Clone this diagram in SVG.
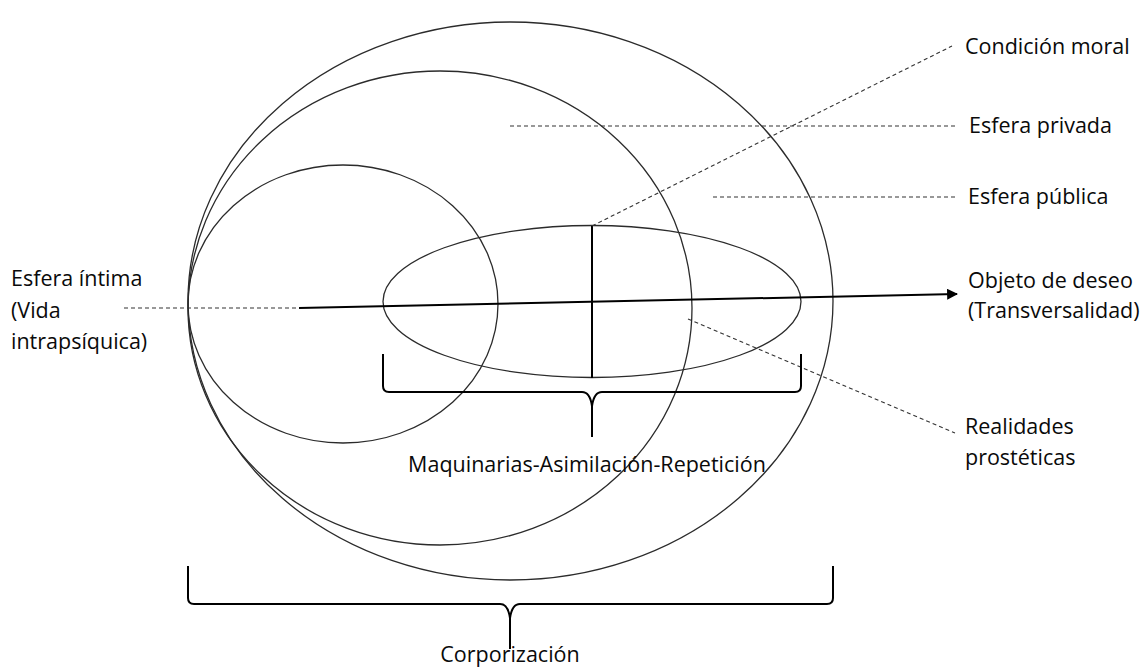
<svg xmlns="http://www.w3.org/2000/svg" width="1148" height="669" viewBox="0 0 1148 669">
  <style>
    .sphere { fill: none; stroke: #2b2b2b; stroke-width: 1.3; }
    .dash { fill: none; stroke: #333; stroke-width: 1.1; stroke-dasharray: 4 3; }
    .solid { fill: none; stroke: #000; stroke-width: 2; }
    .brace { fill: none; stroke: #000; stroke-width: 2; stroke-linejoin: round; }
    .lbl { font-family: "Open Sans", "Noto Sans", sans-serif; font-size: 21.5px; fill: #0a0a0a; }
  </style>
  <defs>
    <marker id="arrowhead" viewBox="0 0 10 10" refX="9" refY="5" markerWidth="5.5" markerHeight="5.5" orient="auto" markerUnits="strokeWidth">
      <path d="M0,0 L10,5 L0,10 Z" fill="#000"/>
    </marker>
  </defs>
  <rect width="1148" height="669" fill="#fff"/>

  <!-- nested spheres, all tangent at the left -->
  <g id="esfera-publica">
    <ellipse class="sphere" cx="510.5" cy="301" rx="322.5" ry="279"/>
  </g>
  <g id="esfera-privada">
    <ellipse class="sphere" cx="440" cy="308" rx="252" ry="237"/>
  </g>
  <g id="esfera-intima">
    <ellipse class="sphere" cx="343" cy="304" rx="155" ry="139"/>
  </g>
  <g id="realidades-prosteticas">
    <ellipse class="sphere" cx="592" cy="301.5" rx="209" ry="76"/>
  </g>

  <!-- connectors and braces -->
  <g id="connectors">
    <line class="dash" x1="124" y1="308" x2="299" y2="308"/>
    <line class="solid" x1="299" y1="308" x2="957" y2="294" marker-end="url(#arrowhead)"/>
    <line class="solid" x1="592" y1="226" x2="592" y2="378"/>
    <line class="dash" x1="592" y1="226" x2="952" y2="46"/>
    <line class="dash" x1="510" y1="126" x2="955" y2="126"/>
    <line class="dash" x1="713" y1="197" x2="955" y2="197"/>
    <line class="dash" x1="688" y1="319" x2="955" y2="433"/>
    <path class="brace" d="M383,354 V386 Q383,392 389,392 H582 Q590,392 592,406 Q594,392 602,392 H795 Q801,392 801,386 V354 M592,406 V437"/>
    <path class="brace" d="M188,566 V598 Q188,604 194,604 H500 Q508,604 510,618 Q512,604 520,604 H827 Q833,604 833,598 V566 M510,618 V649"/>
  </g>

  <!-- labels -->
  <g id="labels">
    <text class="lbl" x="11" y="286">Esfera íntima</text>
    <text class="lbl" x="11" y="318">(Vida</text>
    <text class="lbl" x="11" y="349">intrapsíquica)</text>
    <text class="lbl" x="965" y="54">Condición moral</text>
    <text class="lbl" x="969" y="133">Esfera privada</text>
    <text class="lbl" x="968" y="204">Esfera pública</text>
    <text class="lbl" x="968" y="288">Objeto de deseo</text>
    <text class="lbl" x="968" y="318">(Transversalidad)</text>
    <text class="lbl" x="965" y="434">Realidades</text>
    <text class="lbl" x="965" y="465">prostéticas</text>
    <text class="lbl" x="587" y="472" text-anchor="middle">Maquinarias-Asimilación-Repetición</text>
    <text class="lbl" x="510" y="662" text-anchor="middle">Corporización</text>
  </g>
</svg>
